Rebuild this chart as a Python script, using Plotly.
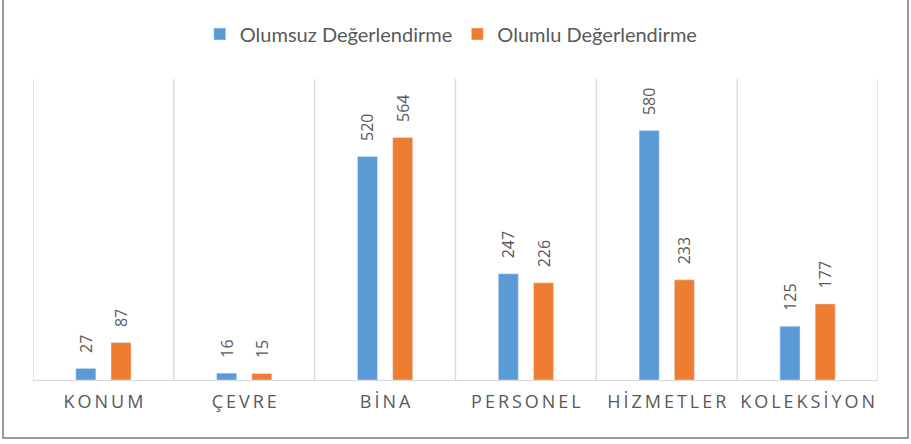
import plotly.graph_objects as go

categories = ["KONUM", "ÇEVRE", "BİNA", "PERSONEL", "HİZMETLER", "KOLEKSİYON"]
olumsuz = [27, 16, 520, 247, 580, 125]
olumlu = [87, 15, 564, 226, 233, 177]
series_names = ["Olumsuz Değerlendirme", "Olumlu Değerlendirme"]

BLUE = "#5B9BD5"
ORANGE = "#ED7D31"
GRAY_TXT = "#595959"

# letter-spaced tick labels (thin spaces between letters)
tick_text = ["\u2009".join(list(c)) for c in categories]

W, H = 911, 444
ML, MR, MT, MB = 33, 33, 79, 64
pw = W - ML - MR
ph = H - MT - MB

fig = go.Figure()
for name, vals, col in [(series_names[0], olumsuz, BLUE), (series_names[1], olumlu, ORANGE)]:
    fig.add_trace(go.Bar(
        name=name, x=categories, y=vals, marker_color=col,
        texttemplate="\u00a0\u00a0\u00a0%{y}", textposition="outside", textangle=-90,
        constraintext="none",
        textfont=dict(family="Open Sans", size=16, color=GRAY_TXT),
        cliponaxis=False,
    ))

shapes = []
for i in range(len(categories) + 1):
    shapes.append(dict(type="line", xref="x", yref="paper", x0=i - 0.5, x1=i - 0.5,
                       y0=0, y1=1, line=dict(color="#D9D9D9", width=1.3), layer="below"))
# outer border
x0p = (3 - ML) / pw
x1p = (908 - ML) / pw
y0p = -(438 - (MT + ph)) / ph
y1p = 1 + (MT + 5) / ph
shapes.append(dict(type="rect", xref="paper", yref="paper", x0=x0p, x1=x1p, y0=y0p, y1=y1p,
                   line=dict(color="#7A7A7A", width=1.5), fillcolor="rgba(0,0,0,0)"))

fig.update_layout(
    width=W, height=H,
    margin=dict(l=ML, r=MR, t=MT, b=MB),
    paper_bgcolor="white", plot_bgcolor="white",
    barmode="group", bargap=0.5, bargroupgap=0.43,
    showlegend=True,
    legend=dict(orientation="h", x=0.495, xanchor="center", y=1 + 45 / ph, yanchor="middle",
                font=dict(family="Lato", size=20, color=GRAY_TXT), itemclick=False),
    shapes=shapes,
    xaxis=dict(tickmode="array", tickvals=categories, ticktext=tick_text,
               showgrid=False, showline=True, linecolor="#D9D9D9", linewidth=1.3,
               ticks="", ticklabelstandoff=5, tickangle=0,
               tickfont=dict(family="Open Sans", size=18, color=GRAY_TXT),
               range=[-0.5, 5.5], fixedrange=True),
    yaxis=dict(range=[0, 700], visible=False, showgrid=False, zeroline=False, fixedrange=True),
)

fig.write_html("out.html", config={"displayModeBar": False},
               post_script="document.body.style.margin='0';document.body.style.overflow='hidden';")
